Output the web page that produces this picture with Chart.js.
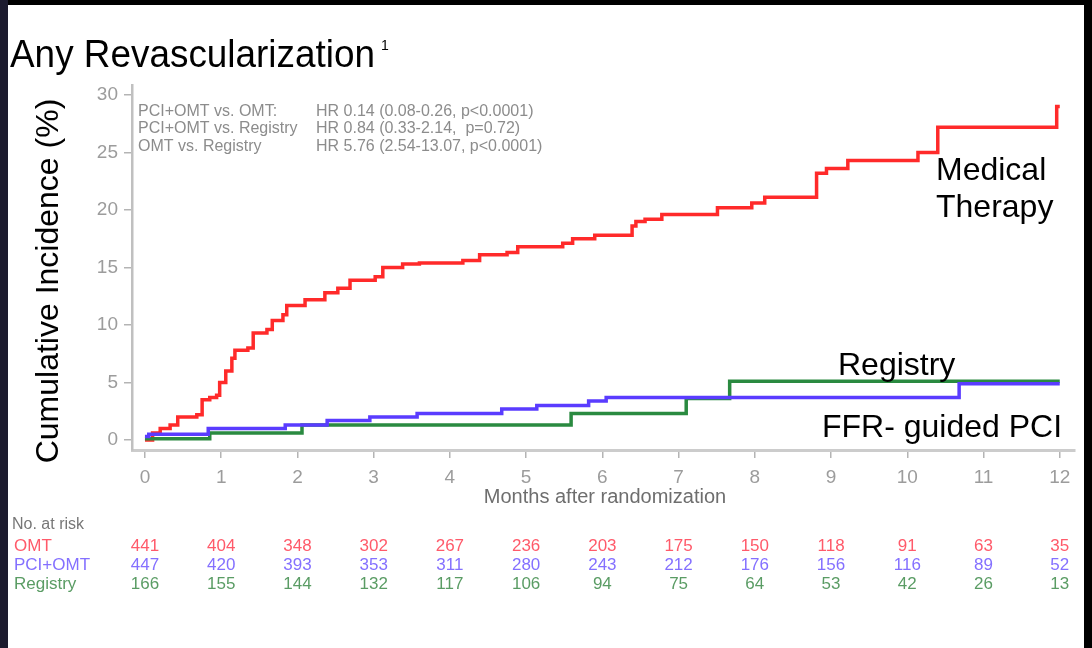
<!DOCTYPE html>
<html>
<head>
<meta charset="utf-8">
<script src="https://cdn.jsdelivr.net/npm/chart.js@4.4.0/dist/chart.umd.min.js"></script>
<style>
  html, body { margin: 0; padding: 0; background: #000; }
  #left { position: absolute; left: 0; top: 0; width: 8px; height: 648px; background: #1c1b2e; }
  #panel { position: absolute; left: 8px; top: 5px; width: 1076px; height: 643px; background: #fff; }
  canvas { position: absolute; left: 0; top: 0; }
</style>
</head>
<body>
<div id="left"></div>
<div id="panel"></div>
<canvas id="kmChart" width="1092" height="648"></canvas>
<script>
// months on the x axis, y ticks
const months = [0, 1, 2, 3, 4, 5, 6, 7, 8, 9, 10, 11, 12];
const yTicks = [0, 5, 10, 15, 20, 25, 30];

// Medical therapy (OMT) - cumulative incidence %
const omtTime = [0, 0.10, 0.20, 0.33, 0.43, 0.68, 0.75, 0.85, 0.94, 0.98, 1.06, 1.14, 1.18, 1.35, 1.42, 1.60, 1.67, 1.81, 1.86,
                 2.10, 2.36, 2.53, 2.69, 3.02, 3.12, 3.38, 3.60, 4.17, 4.39, 4.75, 4.89, 5.48, 5.61, 5.90, 6.39, 6.44, 6.56, 6.78,
                 7.51, 7.96, 8.13, 8.81, 8.94, 9.22, 10.14, 10.40, 11.96, 12.0];
const omtInc  = [0, 0.6, 1.0, 1.3, 2.0, 2.2, 3.5, 3.7, 3.9, 5.0, 6.0, 7.1, 7.8, 8.0, 9.3, 9.6, 10.4, 10.9, 11.7,
                 12.2, 12.8, 13.2, 13.9, 14.2, 15.0, 15.3, 15.4, 15.6, 16.1, 16.3, 16.8, 17.1, 17.5, 17.8, 18.6, 19.0, 19.2, 19.6,
                 20.2, 20.6, 21.1, 23.2, 23.6, 24.3, 25.0, 27.2, 29.0, 29.0];

// FFR-guided PCI (PCI+OMT)
const pciTime = [0, 0.05, 0.83, 1.84, 2.39, 2.95, 3.57, 4.68, 5.14, 5.82, 6.05, 10.68, 12.0];
const pciInc  = [0.3, 0.5, 1.0, 1.3, 1.7, 2.0, 2.3, 2.7, 3.0, 3.4, 3.7, 4.9, 4.9];

// Registry
const regTime = [0, 0.85, 2.06, 5.59, 7.10, 7.67, 12.0];
const regInc  = [0.1, 0.6, 1.3, 2.3, 3.6, 5.1, 5.1];

// numbers at risk
const riskOMT = [441, 404, 348, 302, 267, 236, 203, 175, 150, 118, 91, 63, 35];
const riskPCI = [447, 420, 393, 353, 311, 280, 243, 212, 176, 156, 116, 89, 52];
const riskReg = [166, 155, 144, 132, 117, 106, 94, 75, 64, 53, 42, 26, 13];

const toPoints = (t, v) => t.map((x, i) => ({ x: x, y: v[i] }));

Chart.defaults.font.family = '"Liberation Sans", Arial, sans-serif';

// all the text around the plot
const textPlugin = {
  id: 'kmTexts',
  afterDraw(chart) {
    const ctx = chart.ctx;
    const xs = chart.scales.x;
    ctx.save();
    ctx.textBaseline = 'alphabetic';

    // title, squeezed to the width of the original
    ctx.fillStyle = '#000';
    ctx.font = '38px "Liberation Sans Narrow", "Liberation Sans", Arial, sans-serif';
    const title = 'Any Revascularization';
    const tw = ctx.measureText(title).width;
    ctx.save();
    ctx.translate(10, 67);
    ctx.scale(365 / tw, 1);
    ctx.fillText(title, 0, 0);
    ctx.restore();
    ctx.font = '14px "Liberation Sans", Arial, sans-serif';
    ctx.fillText('1', 381, 50);

    // y axis title
    ctx.save();
    ctx.translate(58, 281);
    ctx.rotate(-Math.PI / 2);
    ctx.textAlign = 'center';
    ctx.font = '32px "Liberation Sans", Arial, sans-serif';
    ctx.fillText('Cumulative Incidence (%)', 0, 0);
    ctx.restore();

    // x axis title
    ctx.textAlign = 'center';
    ctx.fillStyle = '#6e6e6e';
    ctx.font = '20px "Liberation Sans", Arial, sans-serif';
    ctx.fillText('Months after randomization', 605, 503);

    // hazard ratios
    ctx.textAlign = 'left';
    ctx.fillStyle = '#8c8c8c';
    ctx.font = '16px "Liberation Sans", Arial, sans-serif';
    const hrLeft = ['PCI+OMT vs. OMT:', 'PCI+OMT vs. Registry', 'OMT vs. Registry'];
    const hrRight = ['HR 0.14 (0.08-0.26, p<0.0001)', 'HR 0.84 (0.33-2.14,  p=0.72)', 'HR 5.76 (2.54-13.07, p<0.0001)'];
    [116, 133, 151].forEach((y, i) => {
      ctx.fillText(hrLeft[i], 138, y);
      ctx.fillText(hrRight[i], 316, y);
    });

    // curve labels
    ctx.fillStyle = '#000';
    ctx.font = '32px "Liberation Sans", Arial, sans-serif';
    ctx.fillText('Medical', 936, 180);
    ctx.fillText('Therapy', 936, 217);
    ctx.fillText('Registry', 838, 375);
    ctx.fillText('FFR- guided PCI', 822, 437);

    // number at risk table
    ctx.fillStyle = '#777';
    ctx.font = '16px "Liberation Sans", Arial, sans-serif';
    ctx.fillText('No. at risk', 12, 529);
    const rows = [
      { name: 'OMT', vals: riskOMT, color: '#ff5a6a', y: 551 },
      { name: 'PCI+OMT', vals: riskPCI, color: '#8470ff', y: 570 },
      { name: 'Registry', vals: riskReg, color: '#5a9c64', y: 589 }
    ];
    ctx.font = '17px "Liberation Sans", Arial, sans-serif';
    rows.forEach(r => {
      ctx.fillStyle = r.color;
      ctx.textAlign = 'left';
      ctx.fillText(r.name, 14, r.y);
      ctx.textAlign = 'center';
      r.vals.forEach((v, i) => ctx.fillText(String(v), xs.getPixelForValue(months[i]), r.y));
    });
    ctx.restore();
  }
};

const ctx = document.getElementById('kmChart').getContext('2d');

const kmChart = new Chart(ctx, {
  type: 'line',
  data: {
    datasets: [
      { label: 'PCI+OMT', data: toPoints(pciTime, pciInc), borderColor: '#5a3cff' },
      { label: 'Registry', data: toPoints(regTime, regInc), borderColor: '#2a8a40' },
      { label: 'OMT', data: toPoints(omtTime, omtInc), borderColor: '#ff2a2a' }
    ]
  },
  options: {
    responsive: false,
    animation: false,
    layout: { padding: { left: 72, right: 17, top: 85, bottom: 158 } },
    elements: {
      point: { radius: 0 },
      line: { stepped: true, borderWidth: 3.5, tension: 0 }
    },
    plugins: {
      legend: { display: false },
      tooltip: { enabled: false }
    },
    scales: {
      x: {
        type: 'linear',
        min: -0.17,
        max: 12.2,
        afterBuildTicks: s => { s.ticks = months.map(v => ({ value: v })); },
        afterFit: s => { s.height = 40; },
        grid: { drawOnChartArea: false, drawTicks: true, tickLength: 8, color: '#b4b4b4', lineWidth: 1.5 },
        border: { display: true, color: '#cccccc', width: 3 },
        ticks: { color: '#9c9c9c', font: { size: 19 }, padding: 8, maxRotation: 0 }
      },
      y: {
        min: -0.87,
        max: 30.87,
        afterBuildTicks: s => { s.ticks = yTicks.map(v => ({ value: v })); },
        afterFit: s => { s.width = 60; },
        grid: { drawOnChartArea: false, drawTicks: true, tickLength: 8, color: '#b4b4b4', lineWidth: 1.5 },
        border: { display: true, color: '#c0c0c0', width: 2.5 },
        ticks: { color: '#9c9c9c', font: { size: 19 }, padding: 6 }
      }
    }
  },
  plugins: [textPlugin]
});
</script>
</body>
</html>
